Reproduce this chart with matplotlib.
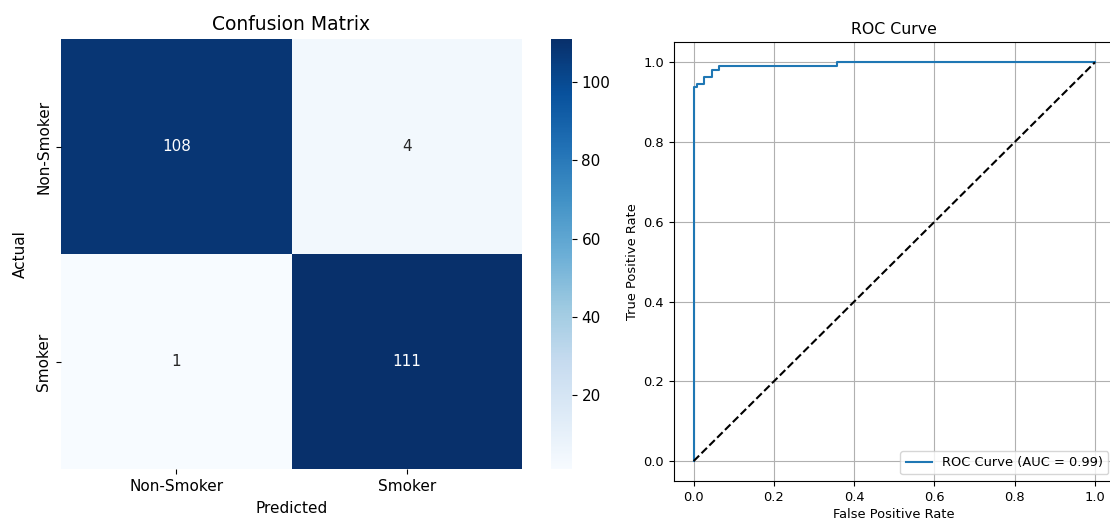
import numpy as np
import matplotlib
matplotlib.use("Agg")
import matplotlib.pyplot as plt
import seaborn as sns

# ---- data ----
class_labels = ["Non-Smoker", "Smoker"]
cm_row_nonsmoker = [108, 4]
cm_row_smoker = [1, 111]

fpr = [0.0, 0.0, 0.009, 0.009, 0.027, 0.027, 0.045, 0.045, 0.063, 0.063, 0.357, 0.357, 1.0]
tpr = [0.0, 0.938, 0.938, 0.946, 0.946, 0.964, 0.964, 0.982, 0.982, 0.991, 0.991, 1.0, 1.0]
auc_value = 0.99
diag_x = [0, 1]
diag_y = [0, 1]

W, H = 1110, 523
fig = plt.figure(figsize=(W / 100, H / 100), dpi=100)


def box(x0, y0, x1, y1):
    return [x0 / W, (H - y1) / H, (x1 - x0) / W, (y1 - y0) / H]


# ---- confusion matrix ----
ax1 = fig.add_axes(box(61, 39.3, 522, 469.3))
cax = fig.add_axes(box(550.7, 39.3, 571.7, 469.3))
cm = np.array([cm_row_nonsmoker, cm_row_smoker])
sns.heatmap(cm, annot=True, fmt="d", cmap="Blues", ax=ax1, cbar_ax=cax,
            xticklabels=class_labels, yticklabels=class_labels,
            annot_kws={"size": 11})
ax1.set_title("Confusion Matrix", fontsize=13.5, pad=7)
ax1.set_xlabel("Predicted", fontsize=11, labelpad=5)
ax1.set_ylabel("Actual", fontsize=11, labelpad=6)
ax1.tick_params(axis="both", labelsize=11)
for t in ax1.get_yticklabels():
    t.set_rotation(90)
    t.set_va("center")
cax.tick_params(labelsize=11)

# ---- ROC curve ----
ax2 = fig.add_axes(box(673.6, 42.4, 1115, 481))
ax2.plot(fpr, tpr, label=f"ROC Curve (AUC = {auc_value:.2f})", lw=1.5)
ax2.plot(diag_x, diag_y, "k--", lw=1.5)
ax2.set_title("ROC Curve", fontsize=11.3, pad=6)
ax2.set_xlabel("False Positive Rate", fontsize=9.4, labelpad=3)
ax2.set_ylabel("True Positive Rate", fontsize=9.4, labelpad=3)
ax2.tick_params(labelsize=9.4)
ax2.set_xlim(-0.05, 1.05)
ax2.set_ylim(-0.05, 1.05)
ax2.set_xticks([0, 0.2, 0.4, 0.6, 0.8, 1.0])
ax2.set_yticks([0, 0.2, 0.4, 0.6, 0.8, 1.0])
ax2.spines["right"].set_visible(False)
ax2.grid(True)
ax2.legend(loc="lower right", fontsize=9.4)

fig.savefig("out.png", dpi=100)
